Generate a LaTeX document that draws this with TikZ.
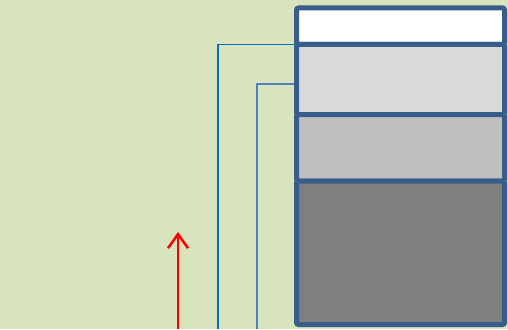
\documentclass[tikz,border=0pt]{standalone}
\usetikzlibrary{arrows.meta}
\definecolor{bg}{HTML}{D8E4BD}
\definecolor{frame}{HTML}{385D8A}
\definecolor{lineA}{HTML}{0070C0}
\definecolor{lineB}{HTML}{4F81BD}
\definecolor{fillB}{HTML}{D9D9D9}
\definecolor{fillC}{HTML}{BFBFBF}
\definecolor{fillD}{HTML}{7F7F7F}
\tikzset{
  layer/.style={draw=frame, line width=5pt, rounded corners=2pt, inner sep=0pt, outer sep=0pt, minimum width=208pt},
  link/.style={line width=1.5pt},
}
\begin{document}
\begin{tikzpicture}[x=1pt,y=-1pt]
\fill[bg] (0,0) rectangle (508,329);
\useasboundingbox (0,0) rectangle (508,329);
\coordinate (c1) at (218,329);
\coordinate (c2) at (257,329);
\coordinate (c3) at (178,329);
\coordinate (tip) at (178,232);
\node[layer, fill=white, minimum height=36.5pt] (top) at (400.5,26.25) {};
\node[layer, fill=fillB, minimum height=70pt] (light) at (400.5,79.5) {};
\node[layer, fill=fillC, minimum height=66.5pt] (mid) at (400.5,147.75) {};
\node[layer, fill=fillD, minimum height=143.5pt] (dark) at (400.5,252.75) {};
\draw[link, draw=lineA] ([xshift=-2.5pt]light.north west) -| (c1);
\draw[link, draw=lineB] ([xshift=-2.5pt,yshift=-4.5pt]light.west) -| (c2);
\draw[red, line width=2.5pt, -{Straight Barb[length=14pt,width=20pt]}] (c3) -- (tip);
\end{tikzpicture}
\end{document}
